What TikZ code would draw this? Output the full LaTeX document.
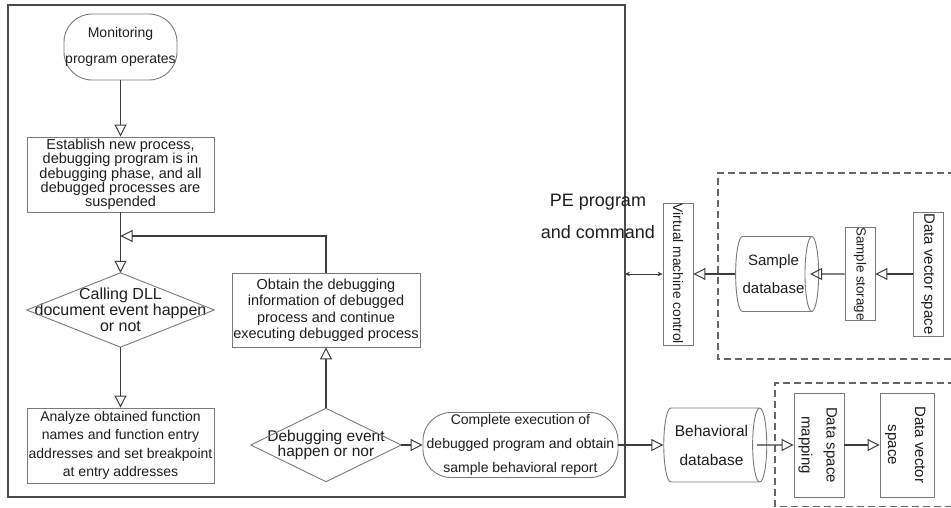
\documentclass[tikz,border=0pt]{standalone}
\usepackage{fontspec}
\setmainfont{Liberation Sans}
\usetikzlibrary{arrows.meta,shapes.geometric}
\definecolor{linec}{HTML}{3C3C3C}
\definecolor{boxc}{HTML}{7A7A7A}
\definecolor{framec}{HTML}{4A4A4A}
\definecolor{dashc}{HTML}{666666}
\definecolor{txtc}{HTML}{1E1E1E}
\newcommand\rotlbl[1]{\rotatebox{-90}{#1}}
\begin{document}
\begin{tikzpicture}[x=1pt,y=-1pt,
  every node/.style={text=txtc, inner sep=0pt, align=center},
  fnt/.style 2 args={font=\fontsize{#1}{#2}\selectfont},
  box/.style={rectangle, draw=boxc, line width=0.9pt},
  term/.style={rectangle, draw=boxc, line width=0.9pt, rounded corners=28pt},
  dia/.style={rectangle},
  dialine/.style={draw=boxc, line width=0.9pt},
  db/.style={cylinder, draw=boxc, line width=0.9pt, shape border rotate=0, shape aspect=0.35},
  conn/.style={draw=linec, line width=1.1pt, -{Triangle[open, length=12pt, width=12pt, line width=1pt]}},
  dbl/.style={draw=linec, line width=0.6pt, {Stealth[length=5pt,width=4.5pt]}-{Stealth[length=5pt,width=4.5pt]}},
  dashbox/.style={draw=dashc, line width=1.1pt, dash pattern=on 7pt off 4pt},
  frame/.style={draw=framec, line width=1.8pt}
]
\useasboundingbox (0,0) rectangle (951,508);
\fill[white] (0,0) rectangle (951,508);

% main frame
\draw[frame] (8,5) rectangle (625,497);

% left flow
\node[term, minimum width=113pt, minimum height=66pt, fnt={14}{26}] (mon) at (120.5,47) {Monitoring\\program operates};
\node[box, minimum width=187pt, minimum height=75pt, fnt={14.5}{14.3}] (est) at (120.5,174.5) {Establish new process,\\debugging program is in\\debugging phase, and all\\debugged processes are\\suspended};
\node[dia, minimum width=187pt, minimum height=74pt, fnt={16}{16}] (dll) at (120.5,310) {Calling DLL\\document event happen\\or not};
\draw[dialine] (dll.north) -- (dll.east) -- (dll.south) -- (dll.west) -- cycle;
\node[box, minimum width=187pt, minimum height=75pt, fnt={14}{18.5}] (ana) at (120.5,445.5) {Analyze obtained function\\names and function entry\\addresses and set breakpoint\\at entry addresses};

\node[box, minimum width=188pt, minimum height=74pt, fnt={14.5}{16.5}] (obt) at (326,310) {Obtain the debugging\\information of debugged\\process and continue\\executing debugged process};
\node[dia, minimum width=150pt, minimum height=73pt, fnt={15.5}{15}] (dbg) at (326,445) {Debugging event\\happen or nor};
\draw[dialine] (dbg.north) -- (dbg.east) -- (dbg.south) -- (dbg.west) -- cycle;

\node[term, minimum width=195pt, minimum height=65pt, fnt={14}{24}] (comp) at (520.5,445) {Complete execution of\\debugged program and obtain\\sample behavioral report};

% right part
\node[db, minimum height=103pt, minimum width=74pt, fnt={15.5}{29}] (beh) at (711.5,445) {Behavioral\\database};
\node[box, minimum width=46pt, minimum height=104pt, fnt={15}{25}] (dsm) at (819,445) {\rotlbl{\begin{tabular}{@{}c@{}}Data space\\mapping\end{tabular}}};
\node[box, minimum width=46pt, minimum height=104pt, fnt={15}{27}] (dvs2) at (907,445) {\rotlbl{\begin{tabular}{@{}c@{}}Data vector\\space\end{tabular}}};

\node[box, minimum width=30pt, minimum height=142pt, fnt={13.8}{16}] (vmc) at (678,274) {\rotlbl{Virtual machine control}};
\node[db, minimum height=83pt, minimum width=75pt, fnt={15}{28}] (sdb) at (773.5,274) {Sample\\database};
\node[box, minimum width=30pt, minimum height=92pt, fnt={13.3}{16}] (sst) at (860,274) {\rotlbl{Sample storage}};
\node[box, minimum width=30pt, minimum height=124pt, fnt={15}{16}] (dvs1) at (928,274) {\rotlbl{Data vector space}};

\node[fnt={18}{32}] (pe) at (598,216) {PE program\\and command};

\draw[dashbox] (955,173) -- (718,173) -- (718,359) -- (955,359);
\draw[dashbox] (955,383) -- (775,383) -- (775,506.5) -- (955,506.5);

% connectors
\coordinate (fb) at (120.5,236);
\coordinate (fr) at (625,274);
\draw[conn] (mon) -- (est);
\draw[conn] (est) -- (dll.north);
\draw[conn] (obt.north) |- (fb);
\draw[conn] (dll.south) -- (ana.north);
\draw[conn] (dbg.north) -- (obt.south);
\draw[conn] (dbg.east) -- (comp.west);
\draw[conn] (comp.east) -- (beh.west);
\draw[conn] ([xshift=-10pt]beh.east) -- (dsm.west);
\draw[conn] (dsm.east) -- (dvs2.west);
\draw[conn] (dvs1.west) -- (sst.east);
\draw[conn] (sst.west) -- ([xshift=-9pt]sdb.east);
\draw[conn] (sdb.west) -- (vmc.east);
\draw[dbl] (fr) -- (vmc.west);
\end{tikzpicture}
\end{document}
